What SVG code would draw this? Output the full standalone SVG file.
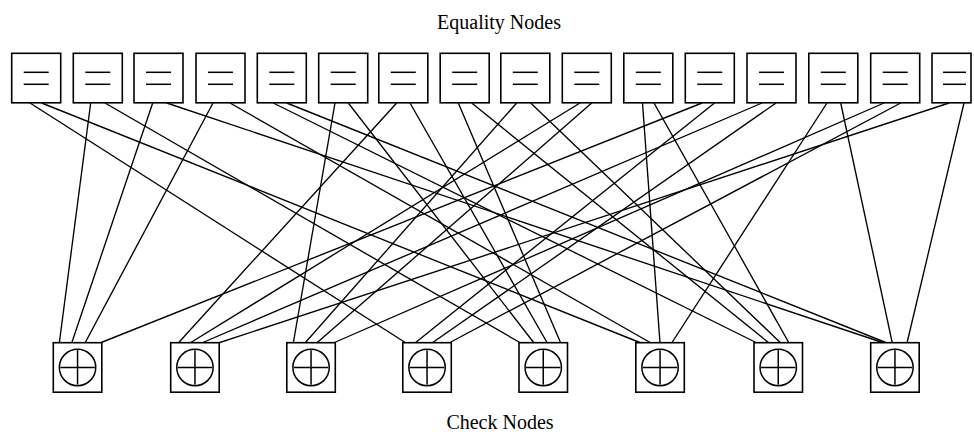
<svg xmlns="http://www.w3.org/2000/svg" width="974" height="432" viewBox="0 0 974 432">
  <style>
    .box { fill: #fff; stroke: #000; stroke-width: 1.6; }
    .mark { stroke: #000; stroke-width: 1.5; fill: none; }
    .edge { stroke: #000; stroke-width: 1.35; fill: none; }
    .label { font-family: "Liberation Serif", "Times New Roman", serif; font-size: 20px; fill: #000; text-anchor: middle; }
  </style>
  <defs>
    <g id="eq">
      <rect class="box" x="0" y="0" width="49" height="49.5"/>
      <line class="mark" x1="12" y1="19" x2="37" y2="19"/>
      <line class="mark" x1="12" y1="31" x2="37" y2="31"/>
    </g>
    <g id="chk">
      <rect class="box" x="0" y="0" width="48.5" height="49.5"/>
      <circle class="mark" cx="24.25" cy="24.8" r="18.2"/>
      <line class="mark" x1="7" y1="24.8" x2="41.5" y2="24.8"/>
      <line class="mark" x1="24.25" y1="7.5" x2="24.25" y2="42"/>
    </g>
  </defs>

  <text class="label" x="499" y="29">Equality Nodes</text>
  <text class="label" x="500" y="429">Check Nodes</text>

  <!-- connectors: bit node bottom (y=103) to check node top (y=343) -->
  <g id="edges">
    <line class="edge" x1="30" y1="103" x2="406" y2="343"/>
    <line class="edge" x1="41.7" y1="103" x2="641" y2="343"/>
    <line class="edge" x1="90.7" y1="103" x2="59.3" y2="343"/>
    <line class="edge" x1="105" y1="103" x2="520.7" y2="343"/>
    <line class="edge" x1="152.7" y1="103" x2="71.7" y2="343"/>
    <line class="edge" x1="166.7" y1="103" x2="884" y2="343"/>
    <line class="edge" x1="213" y1="103" x2="85" y2="343"/>
    <line class="edge" x1="230" y1="103" x2="651" y2="343"/>
    <line class="edge" x1="273.3" y1="103" x2="757" y2="343"/>
    <line class="edge" x1="286.7" y1="103" x2="887" y2="343"/>
    <line class="edge" x1="335" y1="103" x2="293.3" y2="343"/>
    <line class="edge" x1="348.3" y1="103" x2="534" y2="343"/>
    <line class="edge" x1="396.7" y1="103" x2="178.3" y2="343"/>
    <line class="edge" x1="410" y1="103" x2="547.3" y2="343"/>
    <line class="edge" x1="458.3" y1="103" x2="560.7" y2="343"/>
    <line class="edge" x1="471.7" y1="103" x2="769" y2="343"/>
    <line class="edge" x1="516.7" y1="103" x2="305" y2="343"/>
    <line class="edge" x1="530.7" y1="103" x2="780.7" y2="343"/>
    <line class="edge" x1="580" y1="103" x2="190" y2="343"/>
    <line class="edge" x1="591.7" y1="103" x2="316.7" y2="343"/>
    <line class="edge" x1="642.5" y1="103" x2="660" y2="343"/>
    <line class="edge" x1="654" y1="103" x2="789" y2="343"/>
    <line class="edge" x1="702" y1="103" x2="100" y2="343"/>
    <line class="edge" x1="714.5" y1="103" x2="415" y2="343"/>
    <line class="edge" x1="762" y1="103" x2="201.7" y2="343"/>
    <line class="edge" x1="776" y1="103" x2="432" y2="343"/>
    <line class="edge" x1="827" y1="103" x2="671.7" y2="343"/>
    <line class="edge" x1="840.7" y1="103" x2="892.3" y2="343"/>
    <line class="edge" x1="884" y1="103" x2="333.3" y2="343"/>
    <line class="edge" x1="900.7" y1="103" x2="449" y2="343"/>
    <line class="edge" x1="949" y1="103" x2="218.3" y2="343"/>
    <line class="edge" x1="964" y1="103" x2="907" y2="343"/>
  </g>

  <!-- equality (bit) nodes -->
  <use id="eq1" href="#eq" x="11.7" y="53.3"/>
  <use id="eq2" href="#eq" x="73.3" y="53.3"/>
  <use id="eq3" href="#eq" x="134" y="53.3"/>
  <use id="eq4" href="#eq" x="196" y="53.3"/>
  <use id="eq5" href="#eq" x="257.3" y="53.3"/>
  <use id="eq6" href="#eq" x="318.7" y="53.3"/>
  <use id="eq7" href="#eq" x="378.8" y="53.3"/>
  <use id="eq8" href="#eq" x="440.2" y="53.3"/>
  <use id="eq9" href="#eq" x="500.8" y="53.3"/>
  <use id="eq10" href="#eq" x="562.3" y="53.3"/>
  <use id="eq11" href="#eq" x="623.8" y="53.3"/>
  <use id="eq12" href="#eq" x="685.3" y="53.3"/>
  <use id="eq13" href="#eq" x="747" y="53.3"/>
  <use id="eq14" href="#eq" x="808.8" y="53.3"/>
  <use id="eq15" href="#eq" x="870.7" y="53.3"/>
  <g id="eq16">
    <rect class="box" x="932" y="53.3" width="39" height="49.5"/>
    <line class="mark" x1="943" y1="72.3" x2="966" y2="72.3"/>
    <line class="mark" x1="943" y1="84.3" x2="966" y2="84.3"/>
  </g>

  <!-- check nodes -->
  <use id="chk1" href="#chk" x="53.3" y="342.7"/>
  <use id="chk2" href="#chk" x="170.7" y="342.7"/>
  <use id="chk3" href="#chk" x="286.8" y="342.7"/>
  <use id="chk4" href="#chk" x="402.8" y="342.7"/>
  <use id="chk5" href="#chk" x="519" y="342.7"/>
  <use id="chk6" href="#chk" x="635.8" y="342.7"/>
  <use id="chk7" href="#chk" x="754" y="342.7"/>
  <use id="chk8" href="#chk" x="870.7" y="342.7"/>
</svg>
